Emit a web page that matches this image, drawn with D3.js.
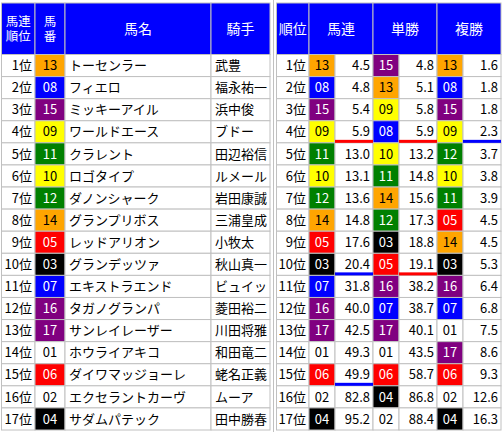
<!DOCTYPE html><html><head><meta charset="utf-8"><script src="https://cdn.jsdelivr.net/npm/d3@7"></script>
<style>body{margin:0;background:#fff}svg{display:block}</style></head><body><script>
const ranks=d3.range(1,18).map(i=>i+"位");
const horseNums=["13","08","15","09","11","10","12","14","05","03","07","16","17","01","06","02","04"];
const horseNames=["トーセンラー","フィエロ","ミッキーアイル","ワールドエース","クラレント","ロゴタイプ","ダノンシャーク","グランプリボス","レッドアリオン","グランデッツァ","エキストラエンド","タガノグランパ","サンレイレーザー","ホウライアキコ","ダイワマッジョーレ","エクセラントカーヴ","サダムパテック"];
const jockeys=["武豊","福永祐一","浜中俊","ブドー","田辺裕信","ルメール","岩田康誠","三浦皇成","小牧太","秋山真一","ビュイッ","菱田裕二","川田将雅","和田竜二","蛯名正義","ムーア","田中勝春"];
const umarenNums=["13","08","15","09","11","10","12","14","05","03","07","16","17","01","06","02","04"];
const umarenOdds=[4.5,4.8,5.4,5.9,13.0,13.1,13.6,14.8,17.6,20.4,31.8,40.0,42.5,49.3,49.9,82.8,95.2];
const tanNums=["15","13","09","08","10","11","14","12","03","05","16","07","17","01","06","04","02"];
const tanOdds=[4.8,5.1,5.8,5.9,13.2,14.8,15.6,17.3,18.8,19.1,38.2,38.7,40.1,43.5,58.7,86.8,88.4];
const fukuNums=["13","08","15","09","12","10","11","05","14","03","16","07","01","17","06","02","04"];
const fukuOdds=[1.6,1.8,1.8,2.3,3.7,3.8,3.9,4.5,4.5,5.3,6.4,6.8,7.5,8.6,9.3,12.6,16.3];
const marks=[["umaren",3,"red"],["tan",3,"red"],["fuku",3,"blue"],["umaren",9,"blue"],["tan",9,"red"],["umaren",14,"blue"]];
const waku={"01":"#fff","02":"#fff","03":"#000","04":"#000","05":"#f00","06":"#f00","07":"#00f","08":"#00f","09":"#ff0","10":"#ff0","11":"#008000","12":"#008000","13":"#ffa500","14":"#ffa500","15":"#800080","16":"#800080","17":"#800080"};
const darkText=n=>["01","02","09","10","13","14"].includes(n)?"#000":"#fff";

const W=504,H=432;
const svg=d3.select("body").append("svg").attr("width",W).attr("height",H);
svg.style("font-family","'Noto Sans CJK JP',sans-serif");
const y=d3.scaleBand().domain(d3.range(17)).range([54.5,430]).padding(0);
const hdrTop=3,hdrBot=54.5;
const grid="#c0c0c0";
function cell(x0,x1,i,fill){svg.append("rect").attr("x",x0).attr("y",y(i)).attr("width",x1-x0).attr("height",y.bandwidth()).attr("fill",fill||"#fff").attr("stroke",grid).attr("stroke-width",1);}
function txt(x,i,s,anchor,col){svg.append("text").attr("x",x).attr("y",y(i)+y.bandwidth()/2).attr("dy","0.36em").attr("text-anchor",anchor).attr("font-size",13).attr("fill",col||"#000").text(s);}
function hdr(x0,x1,lines){svg.append("rect").attr("x",x0).attr("y",hdrTop).attr("width",x1-x0).attr("height",hdrBot-hdrTop).attr("fill","#00f").attr("stroke",grid);
 const cy=(hdrTop+hdrBot)/2;const fs=lines.length>1?12.5:14;lines.forEach((l,k)=>svg.append("text").attr("x",(x0+x1)/2).attr("y",cy+(k-(lines.length-1)/2)*15).attr("dy","0.36em").attr("text-anchor","middle").attr("font-size",fs).attr("fill","#fff").text(l));}
const L=[1.5,35,65,211,270];
hdr(L[0],L[1],["馬連","順位"]);hdr(L[1],L[2],["馬","番"]);hdr(L[2],L[3],["馬名"]);hdr(L[3],L[4],["騎手"]);
d3.range(17).forEach(i=>{
 cell(L[0],L[1],i);txt(L[1]-3,i,ranks[i],"end");
 const n=horseNums[i];cell(L[1],L[2],i,waku[n]);txt((L[1]+L[2])/2,i,n,"middle",darkText(n));
 cell(L[2],L[3],i);txt(L[2]+4,i,horseNames[i],"start");
 cell(L[3],L[4],i);txt(L[3]+4,i,jockeys[i],"start");
});
svg.append("line").attr("x1",273.5).attr("x2",273.5).attr("y1",0).attr("y2",H).attr("stroke",grid);
const R0=276.5,R1=309;
hdr(R0,R1,["順位"]);
const groups=[["umaren","馬連",309,335,373,umarenNums,umarenOdds],["tan","単勝",373,399,437,tanNums,tanOdds],["fuku","複勝",437,463,501,fukuNums,fukuOdds]];
groups.forEach(([k,name,a,b,c])=>hdr(a,c,[name]));
d3.range(17).forEach(i=>{
 cell(R0,R1,i);txt(R1-3,i,ranks[i],"end");
 groups.forEach(([k,name,a,b,c,nums,odds])=>{
  const n=nums[i];cell(a,b,i,waku[n]);txt((a+b)/2,i,n,"middle",darkText(n));
  cell(b,c,i);txt(c-3,i,d3.format(".1f")(odds[i]),"end");
 });
});
marks.forEach(([k,i,col])=>{const g=groups.find(d=>d[0]===k);
 svg.append("rect").attr("x",g[3]).attr("y",y(i)+y.bandwidth()-3).attr("width",g[4]-g[3]).attr("height",3).attr("fill",col==="red"?"#f00":"#00f");});
</script></body></html>
